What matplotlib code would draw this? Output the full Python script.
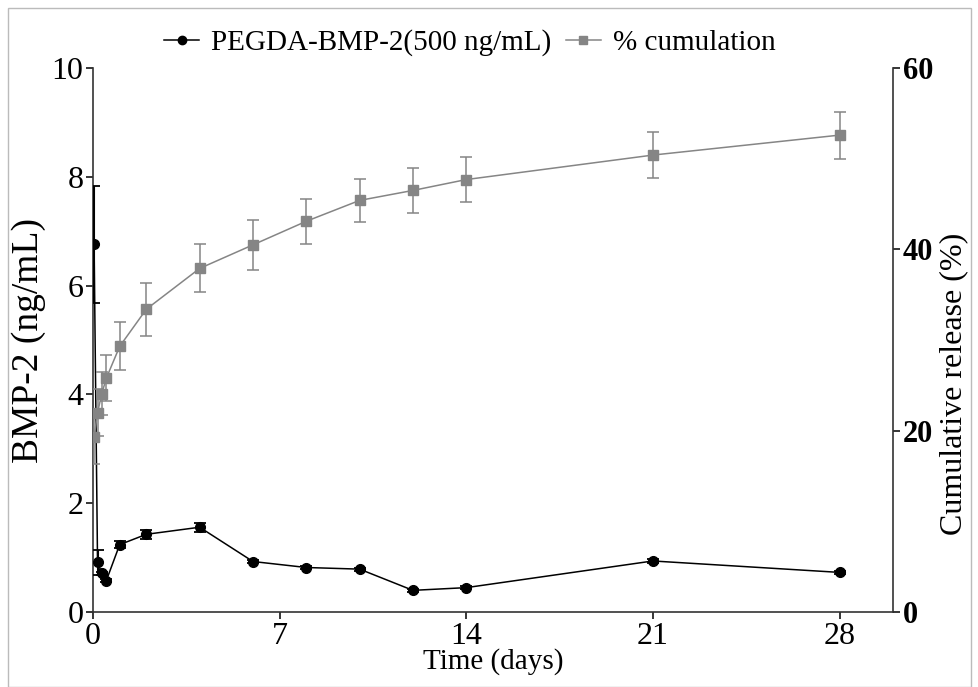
import numpy as np
import matplotlib
matplotlib.use("Agg")
import matplotlib.pyplot as plt
from matplotlib.patches import Rectangle
from matplotlib.lines import Line2D

plt.rcParams['font.family'] = ['Liberation Serif', 'DejaVu Serif']

# release time points (days)
days = [0.04, 0.17, 0.33, 0.5, 1, 2, 4, 6, 8, 10, 12, 14, 21, 28]

# BMP-2 concentration (ng/mL)
bmp = [6.76, 0.92, 0.71, 0.58, 1.24, 1.43, 1.56, 0.93, 0.82, 0.79, 0.40, 0.45, 0.94, 0.73]
bmp_err = [1.08, 0.23, 0.03, 0.03, 0.06, 0.08, 0.08, 0.03, 0.03, 0.03, 0.03, 0.03, 0.03, 0.03]

# cumulative release (%)
cum = [19.3, 22.0, 24.1, 25.8, 29.3, 33.4, 37.9, 40.5, 43.1, 45.4, 46.5, 47.7, 50.4, 52.6]
cum_err = [3.0, 2.6, 2.4, 2.5, 2.65, 2.9, 2.65, 2.75, 2.5, 2.4, 2.5, 2.5, 2.5, 2.6]

black = 'black'
grey = '#858585'

fig = plt.figure(figsize=(9.79, 6.87), dpi=100)
ax = fig.add_axes([0.095, 0.109, 0.817, 0.792])
ax2 = ax.twinx()

ax.errorbar(days, bmp, yerr=bmp_err, color=black, marker='o', markersize=7,
            lw=1.1, capsize=4, elinewidth=1.5, capthick=1.3, zorder=3)
ax2.errorbar(days, cum, yerr=cum_err, color=grey, marker='s', markersize=7,
             lw=1.1, capsize=4, elinewidth=1.1, capthick=1.1)

ax.set_xlim(0, 30)
ax.set_ylim(0, 10)
ax2.set_ylim(0, 60)
ax.set_xticks([0, 7, 14, 21, 28])
ax.set_yticks([0, 2, 4, 6, 8, 10])
ax2.set_yticks([0, 20, 40, 60])

for a in (ax, ax2):
    a.spines['top'].set_visible(False)
    for s in a.spines.values():
        s.set_linewidth(1.2)
        s.set_color('#333333')
ax.spines['right'].set_visible(False)
ax2.spines['left'].set_visible(False)
ax2.spines['bottom'].set_visible(False)

ax.tick_params(axis='both', direction='out', length=5, width=1.1, labelsize=23, pad=2)
ax.tick_params(axis='x', labelsize=23, pad=2)
ax2.tick_params(axis='y', direction='out', length=5, width=1.1, labelsize=22, pad=2)
for lab in ax2.get_yticklabels():
    lab.set_fontweight('bold')

ax.set_xlabel('Time (days)', fontsize=21, labelpad=-2)
ax.set_ylabel('BMP-2 (ng/mL)', fontsize=27, labelpad=4)
ax2.set_ylabel('Cumulative release (%)', fontsize=23)
ax2.yaxis.set_label_coords(1.058, 0.42)

handles = [Line2D([], [], color=black, marker='o', markersize=6, lw=1.1),
           Line2D([], [], color=grey, marker='s', markersize=6, lw=1.1)]
labels = ['PEGDA-BMP-2(500 ng/mL)', '% cumulation']
fig.legend(handles, labels, loc='center', bbox_to_anchor=(0.48, 0.938), ncol=2,
           frameon=False, fontsize=21, handlelength=1.2, handletextpad=0.4,
           columnspacing=0.5)

fig.patches.append(Rectangle((0.008, 0.0), 0.984, 0.988, transform=fig.transFigure,
                             fill=False, edgecolor='#bbbbbb', lw=1))

fig.savefig('out.png', dpi=100)
